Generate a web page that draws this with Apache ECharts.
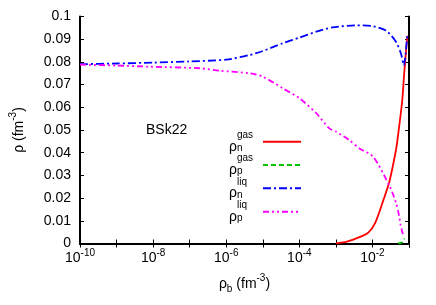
<!DOCTYPE html>
<html><head><meta charset="utf-8">
<script src="https://cdn.jsdelivr.net/npm/echarts@6/dist/echarts.min.js"></script>
<style>html,body{margin:0;padding:0;background:#fff}#c{width:436px;height:305px}</style>
</head><body><div id="c"></div>
<script>
// ---- data ----
const nGasX = [1e-3, 2e-3, 4.6e-3, 7.7e-3, 1.2e-2, 2e-2, 2.9e-2, 4.4e-2, 5.1e-2, 6.55e-2, 0.074, 0.09];
const nGasY = [0, 0.0008, 0.0029, 0.0048, 0.0092, 0.0192, 0.0272, 0.0412, 0.0485, 0.0632, 0.075, 0.0915];

const pGasX = [5e-2, 6.5e-2, 0.072, 0.074];
const pGasY = [0, 0.0005, 0.0015, 0.0022];

const nLiqX = [1e-10, 1e-9, 1e-8, 1e-7, 1e-6, 4.3e-6, 1e-5, 3.5e-5, 1e-4, 2.9e-4, 8e-4, 3.5e-3, 1e-2, 2.4e-2, 4.4e-2, 6e-2, 0.072, 0.09];
const nLiqY = [0.0790, 0.0793, 0.0797, 0.0802, 0.0810, 0.0830, 0.0848, 0.0882, 0.0907, 0.0933, 0.0952, 0.0961, 0.0958, 0.0937, 0.0889, 0.0838, 0.0785, 0.0920];

const pLiqX = [1e-10, 1e-9, 8e-9, 1.9e-7, 6.8e-7, 4.3e-6, 1e-5, 3.5e-5, 1e-4, 2.9e-4, 6.6e-4, 1e-3, 2.3e-3, 4.4e-3, 1.05e-2, 3e-2, 4.5e-2, 5.2e-2, 5.9e-2, 6.7e-2, 0.072];
const pLiqY = [0.0788, 0.0784, 0.0779, 0.0772, 0.0761, 0.0750, 0.0735, 0.0684, 0.0640, 0.0574, 0.0507, 0.0493, 0.0456, 0.0419, 0.0382, 0.0250, 0.0175, 0.0133, 0.0081, 0.0045, 0.0027];

const xMin = 1e-10, xMax = 0.1;
const yMin = 0, yMax = 0.1, yStep = 0.01;
const label = 'BSk22';

const names = ['n_gas', 'p_gas', 'n_liq', 'p_liq'];
const legendText = {
  n_gas: ['gas', 'n'], p_gas: ['gas', 'p'], n_liq: ['liq', 'n'], p_liq: ['liq', 'p']
};
const colors = ['#ff0000', '#00c000', '#0000ff', '#ff00ff'];
const dashes = ['solid', [5, 3], [8, 3, 2, 3], [6, 3, 2, 3, 2, 3]];

const zip = (xs, ys) => xs.map((x, i) => [x, ys[i]]);
const seriesData = [zip(nGasX, nGasY), zip(pGasX, pGasY), zip(nLiqX, nLiqY), zip(pLiqX, pLiqY)];

const FONT = 'Liberation Sans, Arial, Helvetica, sans-serif';
const chart = echarts.init(document.getElementById('c'), null, {renderer: 'canvas'});

const legendRows = [141.7, 165, 188.3, 211.7];
const legends = names.map((n, i) => ({
  data: [n], orient: 'vertical', align: 'right', right: 134, top: legendRows[i] - 11.5,
  itemWidth: 38, itemHeight: 10, padding: 0, selectedMode: false,
  itemStyle: {opacity: 0, borderWidth: 0},
  formatter: nm => '{sp| }{sup|' + legendText[nm][0] + '}\n{rho|ρ}{sub|' + legendText[nm][1] + '}',
  textStyle: {
    fontFamily: FONT, color: '#000', padding: [0, 4, 0, 0],
    rich: {
      sp: {fontSize: 10, width: 8, lineHeight: 10, align: 'left', fontFamily: FONT},
      sup: {fontSize: 10, width: 17, lineHeight: 10, align: 'left', fontFamily: FONT, color: '#000'},
      rho: {fontSize: 14, width: 8, lineHeight: 13, align: 'left', fontFamily: FONT, color: '#000'},
      sub: {fontSize: 10, width: 17, lineHeight: 13, align: 'left', verticalAlign: 'bottom', fontFamily: FONT, color: '#000'}
    }
  }
}));

const axisLineStyle = {color: '#000', width: 2};
const tickStyle = {color: '#000', width: 1};

chart.setOption({
  animation: false,
  backgroundColor: '#fff',
  grid: {left: 80, right: 27, top: 16.5, bottom: 61.5, containLabel: false, outerBoundsMode: 'none'},
  legend: legends,
  xAxis: [{
    type: 'log', logBase: 10, min: xMin, max: xMax, splitNumber: 9, position: 'bottom',
    name: '{a|ρ}{s|b}{a| (fm}{p|-3}{a|)}', nameLocation: 'middle', nameGap: 30,
    nameTextStyle: {rich: {
      a: {fontSize: 14, fontFamily: FONT, color: '#000', verticalAlign: 'bottom', lineHeight: 18},
      s: {fontSize: 10, fontFamily: FONT, color: '#000', verticalAlign: 'bottom', lineHeight: 18, padding: [0,0,-3,0]},
      p: {fontSize: 10, fontFamily: FONT, color: '#000', verticalAlign: 'top', lineHeight: 18}
    }},
    axisLine: {show: true, lineStyle: axisLineStyle},
    axisTick: {show: true, inside: true, length: 4, lineStyle: tickStyle},
    axisLabel: {
      margin: 5,
      formatter: v => {
        const e = Math.round(Math.log10(v));
        if (e % 2 !== 0 || e > -2) return '';
        return '{b|10}{e|' + e + '}';
      },
      rich: {
        b: {fontSize: 14, fontFamily: FONT, color: '#000', verticalAlign: 'bottom', lineHeight: 17},
        e: {fontSize: 10, fontFamily: FONT, color: '#000', verticalAlign: 'top', lineHeight: 17}
      }
    },
    splitLine: {show: false}, minorTick: {show: false}
  }, {
    type: 'log', logBase: 10, min: xMin, max: xMax, splitNumber: 9, position: 'top',
    axisLine: {show: true, lineStyle: axisLineStyle},
    axisTick: {show: true, inside: true, length: 4, lineStyle: tickStyle},
    axisLabel: {show: false}, splitLine: {show: false}
  }],
  yAxis: [{
    type: 'value', min: yMin, max: yMax, interval: yStep, position: 'left',
    name: '{a|ρ (fm}{p|-3}{a|)}', nameLocation: 'middle', nameGap: 54, nameRotate: 90,
    nameTextStyle: {rich: {
      a: {fontSize: 14, fontFamily: FONT, color: '#000', verticalAlign: 'bottom', lineHeight: 18},
      p: {fontSize: 10, fontFamily: FONT, color: '#000', verticalAlign: 'top', lineHeight: 18}
    }},
    axisLine: {show: true, lineStyle: axisLineStyle},
    axisTick: {show: true, inside: true, length: 4, lineStyle: tickStyle},
    axisLabel: {
      margin: 9, fontSize: 14, fontFamily: FONT, color: '#000',
      formatter: v => v === 0 ? '0' : String(+v.toFixed(2))
    },
    splitLine: {show: false}
  }, {
    type: 'value', min: yMin, max: yMax, interval: yStep, position: 'right',
    axisLine: {show: true, lineStyle: axisLineStyle},
    axisTick: {show: true, inside: true, length: 4, lineStyle: tickStyle},
    axisLabel: {show: false}, splitLine: {show: false}
  }],
  graphic: [{
    type: 'text', left: 146, top: 123,
    style: {text: label, fontSize: 14, fontFamily: FONT, fill: '#000'}
  }],
  series: names.map((n, i) => ({
    name: n, type: 'line', xAxisIndex: 0, yAxisIndex: 0,
    data: seriesData[i], showSymbol: false, symbol: 'none',
    smooth: 0.25, clip: true,
    lineStyle: {color: colors[i], width: 1.8, type: dashes[i]},
    itemStyle: {color: colors[i]},
    z: 3
  }))
});
</script>
</body></html>
